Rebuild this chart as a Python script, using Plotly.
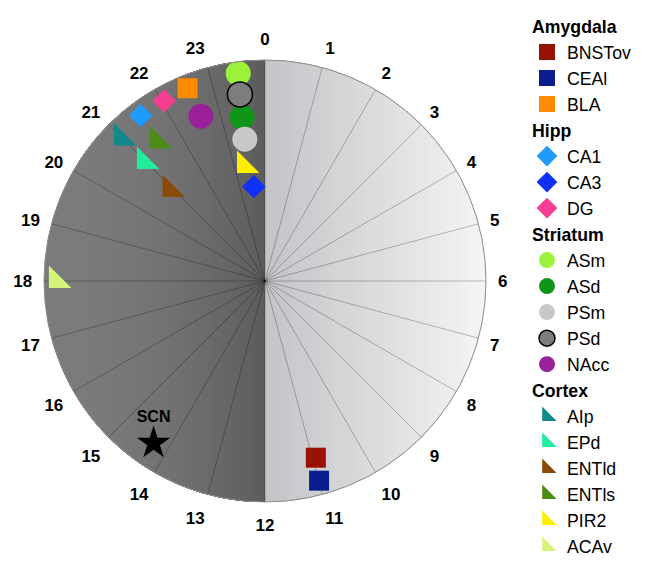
import math
import plotly.graph_objects as go

# ---------------- data ----------------
hour_labels = [str(h) for h in range(24)]

names = ["BNSTov", "CEAl", "BLA",
         "CA1", "CA3", "DG",
         "ASm", "ASd", "PSm", "PSd", "NAcc",
         "AIp", "EPd", "ENTld", "ENTls", "PIR2", "ACAv"]
groups = ["Amygdala", "Amygdala", "Amygdala",
          "Hipp", "Hipp", "Hipp",
          "Striatum", "Striatum", "Striatum", "Striatum", "Striatum",
          "Cortex", "Cortex", "Cortex", "Cortex", "Cortex", "Cortex"]
phase_hours = [10.93, 10.99, 22.54,
               21.54, 23.55, 22.05,
               23.51, 23.47, 23.46, 23.49, 22.58,
               20.99, 20.98, 20.93, 21.49, 23.33, 18.01]
radial_pos = [0.832, 0.936, 0.940,
              0.937, 0.430, 0.934,
              0.947, 0.748, 0.648, 0.852, 0.800,
              0.917, 0.768, 0.597, 0.800, 0.531, 0.944]

scn_hour = [14.3]
scn_radial = [0.89]

# ---------------- styles ----------------
colors = ["#9a1203", "#0b1c8f", "#ff8c00",
          "#1e9bff", "#1130f5", "#f63d92",
          "#9cf23a", "#0f9619", "#c8c8c8", "#7d7d7d", "#9a1f9a",
          "#12898c", "#22eb9b", "#8c4a0a", "#4a8c14", "#ffee00", "#d4f57a"]
group_symbol = {"Amygdala": "square", "Hipp": "diamond",
                "Striatum": "circle", "Cortex": "triangle-sw"}
group_size = {"Amygdala": 20, "Hipp": 18, "Striatum": 25, "Cortex": 25}

FONT = "Liberation Sans, Arial, sans-serif"
LEG_FONT = 17.7
W, H = 647, 620

fig = go.Figure()

# dummy cartesian trace so that the background axes exist
fig.add_trace(go.Scatter(x=[], y=[], xaxis="x", yaxis="y", showlegend=False,
                         hoverinfo="skip"))

for i, n in enumerate(names):
    g = groups[i]
    line = dict(width=1.5, color="black") if n == "PSd" else dict(width=0)
    fig.add_trace(go.Scatterpolar(
        r=[radial_pos[i]], theta=[phase_hours[i] * 15],
        mode="markers", name=n,
        legendgroup=g,
        legendgrouptitle=dict(text="<b>" + g + "</b>",
                              font=dict(family=FONT, size=LEG_FONT, color="black")),
        marker=dict(symbol=group_symbol[g], size=group_size[g],
                    color=colors[i], line=line, opacity=1),
    ))

fig.add_trace(go.Scatterpolar(
    r=scn_radial, theta=[h * 15 for h in scn_hour],
    mode="markers+text", text=["<b>SCN</b>"], textposition="top center",
    textfont=dict(family=FONT, size=16, color="black"),
    marker=dict(symbol="star", size=25, color="black"),
    showlegend=False))

# ---------------- gradient background (two half disks) ----------------
def region_path(a, b, npts=40):
    # disk region between x=a and x=b (a<b), unit circle
    ta = math.acos(max(-1, min(1, a)))
    tb = math.acos(max(-1, min(1, b)))
    pts = []
    for k in range(npts + 1):
        t = ta + (tb - ta) * k / npts
        pts.append((math.cos(t), math.sin(t)))
    for k in range(npts + 1):
        t = tb + (ta - tb) * k / npts
        pts.append((math.cos(t), -math.sin(t)))
    return "M " + " L ".join(f"{x:.4f},{y:.4f}" for x, y in pts) + " Z"

shapes = []
N = 70
for k in range(N):
    x0 = -1 + k / N
    v = 124 - 32 * (x0 + 1) ** 2
    c = f"rgb({int(v)},{int(v)},{int(v)})"
    shapes.append(dict(type="path", xref="x", yref="y", path=region_path(x0, 0),
                       fillcolor=c, line=dict(width=0), layer="below"))
for k in range(N):
    x1 = 1 - k / N
    v = 196 + 49 * x1
    c = f"rgb({int(v)},{int(v)},{int(v + 4 * (1 - x1))})"
    shapes.append(dict(type="path", xref="x", yref="y", path=region_path(0, x1),
                       fillcolor=c, line=dict(width=0), layer="below"))

# disk: left 36 px, top 52 px, diameter 442 px (figure coordinates)
dom_x = [36 / W, 478 / W]
dom_y = [1 - 494 / H, 1 - 52 / H]

fig.update_layout(
    width=W, height=H,
    margin=dict(l=0, r=0, t=0, b=0),
    paper_bgcolor="white", plot_bgcolor="rgba(0,0,0,0)",
    font=dict(family=FONT, color="black"),
    shapes=shapes,
    xaxis=dict(domain=dom_x, range=[-1, 1], visible=False, fixedrange=True),
    yaxis=dict(domain=dom_y, range=[-1, 1], visible=False, fixedrange=True),
    polar=dict(
        domain=dict(x=dom_x, y=dom_y),
        bgcolor="rgba(0,0,0,0)",
        radialaxis=dict(range=[0, 1], visible=False, showgrid=False),
        angularaxis=dict(
            direction="clockwise", rotation=90,
            tickmode="array", tickvals=[h * 15 for h in range(24)],
            ticktext=hour_labels,
            tickfont=dict(family=FONT, size=17, color="black", weight="bold"),
            ticks="outside", ticklen=8, tickcolor="rgba(0,0,0,0)",
            showgrid=True, gridcolor="rgba(0,0,0,0.25)", gridwidth=1,
            showline=True, linecolor="#8c8c8c", linewidth=1,
        ),
    ),
    legend=dict(x=519 / W, y=1.0, xanchor="left", yanchor="top",
                font=dict(family=FONT, size=LEG_FONT, color="black"),
                tracegroupgap=0, traceorder="grouped", itemsizing="trace",
                bgcolor="rgba(0,0,0,0)", maxheight=H),
    showlegend=True,
)

fig.write_html("out.html")
